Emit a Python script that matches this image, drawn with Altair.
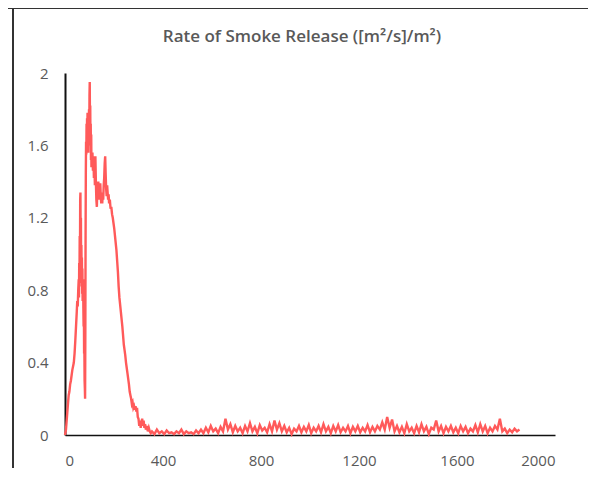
# -*- coding: utf-8 -*-
import altair as alt
import pandas as pd

# time (s) and rate of smoke release during the main burning phase
peak_t = [0, 4, 8, 12, 15, 18, 21, 24, 27, 30, 33, 36, 39, 42, 45, 48, 50, 52, 54, 56,
          57, 58, 59, 60, 61, 62, 63, 64, 65, 66, 67, 68, 69, 70, 71, 72, 74, 75, 76, 77,
          78, 79, 80, 81, 82, 83, 84, 85, 86, 87, 88, 89, 90, 91, 92, 93, 94, 95, 96, 97,
          98, 99, 100, 101, 102, 103, 104, 105, 106, 107, 108, 109, 110, 112, 114, 116, 118, 120, 122, 124,
          126, 128, 130, 132, 134, 136, 138, 140, 142, 144, 146, 148, 150, 152, 154, 156, 158, 160, 162, 164,
          166, 168, 170, 172, 174, 176, 178, 180, 183, 186, 189, 192, 195, 198, 201, 204, 207, 210, 213, 216,
          219, 222, 225, 228, 231, 234, 237, 240, 243, 246, 249, 252, 255, 258, 261, 264, 267, 270, 273, 276,
          279, 282, 285, 288, 291, 294, 297, 300, 303, 306, 309, 312, 315, 318, 321, 324, 327, 330, 334, 338,
          342, 346, 350]
peak_v = [0.0, 0.03, 0.10, 0.17, 0.22, 0.24, 0.28, 0.30, 0.33, 0.36, 0.38, 0.40, 0.45, 0.52, 0.60, 0.68, 0.74, 0.71, 0.80, 0.86,
          0.76, 0.95, 0.84, 1.10, 0.92, 1.30, 1.34, 1.02, 1.20, 0.86, 1.05, 0.82, 0.98, 0.78, 0.92, 0.74, 0.86, 0.70, 0.60, 0.72,
          0.45, 0.50, 0.30, 0.26, 0.20, 0.55, 1.10, 1.45, 1.62, 1.55, 1.72, 1.58, 1.75, 1.62, 1.78, 1.60, 1.74, 1.56, 1.70, 1.62,
          1.80, 1.66, 1.88, 1.95, 1.70, 1.82, 1.60, 1.72, 1.52, 1.66, 1.48, 1.55, 1.50, 1.56, 1.46, 1.54, 1.42, 1.50, 1.38, 1.54,
          1.40, 1.30, 1.26, 1.36, 1.30, 1.40, 1.32, 1.38, 1.30, 1.39, 1.32, 1.28, 1.34, 1.28, 1.33, 1.30, 1.38, 1.42, 1.50, 1.54,
          1.44, 1.36, 1.32, 1.38, 1.34, 1.30, 1.33, 1.28, 1.30, 1.25, 1.26, 1.22, 1.20, 1.17, 1.14, 1.10, 1.06, 1.02, 0.96, 0.90,
          0.82, 0.76, 0.72, 0.68, 0.64, 0.60, 0.55, 0.50, 0.47, 0.44, 0.40, 0.37, 0.34, 0.31, 0.28, 0.24, 0.22, 0.20, 0.17, 0.18,
          0.15, 0.16, 0.14, 0.16, 0.13, 0.15, 0.10, 0.09, 0.05, 0.08, 0.04, 0.07, 0.09, 0.05, 0.08, 0.04, 0.06, 0.03, 0.05, 0.02,
          0.04, 0.02, 0.01]

# after burnout: readings every 10 s from 355 s
tail_start = 355
tail_step = 10
tail_v = [0.02, 0.005, 0.03, 0.01, 0.02, 0.005, 0.025, 0.01, 0.015, 0.005,
          0.02, 0.01, 0.03, 0.005, 0.02, 0.01, 0.015, 0.005, 0.025, 0.01,
          0.03, 0.01, 0.04, 0.015, 0.05, 0.02, 0.035, 0.01, 0.045, 0.02,
          0.09, 0.03, 0.06, 0.015, 0.05, 0.02, 0.04, 0.01, 0.05, 0.02,
          0.065, 0.02, 0.045, 0.01, 0.055, 0.025, 0.04, 0.015, 0.06, 0.02,
          0.08, 0.03, 0.065, 0.02, 0.05, 0.015, 0.04, 0.005, 0.035, 0.02,
          0.05, 0.015, 0.045, 0.02, 0.055, 0.01, 0.04, 0.02, 0.05, 0.015,
          0.06, 0.02, 0.045, 0.01, 0.05, 0.02, 0.055, 0.015, 0.04, 0.02,
          0.05, 0.01, 0.045, 0.02, 0.05, 0.015, 0.04, 0.02, 0.055, 0.015,
          0.045, 0.02, 0.05, 0.03, 0.07, 0.03, 0.10, 0.04, 0.085, 0.02,
          0.05, 0.015, 0.045, 0.01, 0.06, 0.02, 0.04, 0.01, 0.05, 0.015,
          0.06, 0.02, 0.045, 0.005, 0.04, 0.03, 0.08, 0.02, 0.05, 0.01,
          0.045, 0.02, 0.05, 0.015, 0.04, 0.01, 0.05, 0.02, 0.045, 0.01,
          0.035, 0.02, 0.055, 0.015, 0.06, 0.02, 0.05, 0.01, 0.04, 0.02,
          0.05, 0.03, 0.09, 0.02, 0.035, 0.01, 0.03, 0.015, 0.035, 0.02,
          0.03]

x_ticks = [0, 400, 800, 1200, 1600, 2000]
y_ticks = [0, 0.4, 0.8, 1.2, 1.6, 2]
title = "Rate of Smoke Release ([m²/s]/m²)"

tail_t = [tail_start + tail_step * i for i in range(len(tail_v))]
df = pd.DataFrame({"t": peak_t + tail_t, "rsr": peak_v + tail_v})

gray = "#595959"
font = "Open Sans"

line = alt.Chart(df).mark_line(color="#FF5A5A", strokeWidth=2.4).encode(
    x=alt.X("t:Q", scale=alt.Scale(domain=[0, 2000], nice=False),
            axis=alt.Axis(values=x_ticks, format="d", title=None, grid=False,
                          ticks=False, domainColor="#111111", domainWidth=1.5,
                          labelColor=gray, labelFontSize=15, labelFont=font,
                          labelPadding=18)),
    y=alt.Y("rsr:Q", scale=alt.Scale(domain=[0, 2], nice=False),
            axis=alt.Axis(values=y_ticks, format="~g", title=None, grid=False,
                          ticks=False, domainColor="#111111", domainWidth=2,
                          labelColor=gray, labelFontSize=15, labelFont=font,
                          labelPadding=17)),
)

# scanned page frame (top edge and left edge) and the chart title
frame = pd.DataFrame({"k": [0]})
top_edge = alt.Chart(frame).mark_rule(color="#333333", strokeWidth=2).encode(
    x=alt.value(-60), x2=alt.value(540), y=alt.value(-65))
left_edge = alt.Chart(frame).mark_rule(color="#333333", strokeWidth=2).encode(
    x=alt.value(-52), y=alt.value(-65), y2=alt.value(400))
heading = alt.Chart(frame).mark_text(
    font=font, fontSize=17, fontWeight=600, color=gray,
    align="center", baseline="middle").encode(
    x=alt.value(237), y=alt.value(-36), text=alt.value(title))

chart = alt.layer(line, top_edge, left_edge, heading).properties(
    width=490, height=362,
    autosize=alt.AutoSizeParams(type="none"),
    padding={"left": 57, "top": 65, "right": 33, "bottom": 33},
).configure_view(stroke=None)

chart.save("out.html", embed_options={"renderer": "svg", "actions": False})
